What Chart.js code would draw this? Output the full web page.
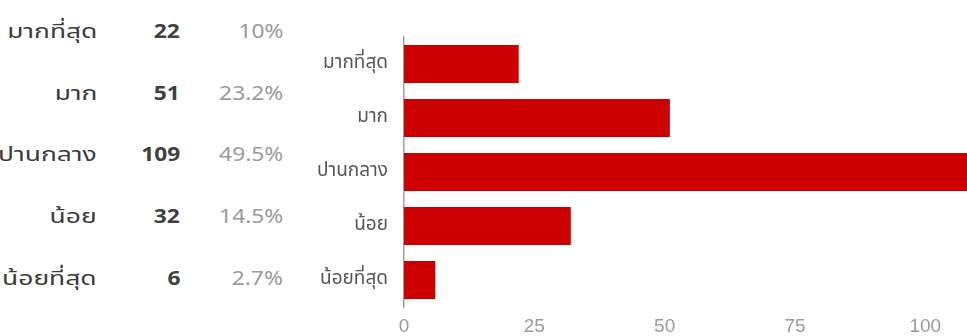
<!DOCTYPE html>
<html>
<head>
<meta charset="utf-8">
<script src="https://cdn.jsdelivr.net/npm/chart.js@4.4.1/dist/chart.umd.min.js"></script>
<style>
  html, body { margin: 0; padding: 0; background: #fff; overflow: hidden; }
  body { width: 967px; height: 336px; position: relative; font-family: Tahoma, "Noto Sans Thai", "Noto Sans", "DejaVu Sans", sans-serif; }
  #summary { position: absolute; left: 0; top: 0; width: 290px; height: 336px; }
  .row { position: absolute; left: 0; width: 290px; height: 30px; line-height: 30px; }
  .row span { position: absolute; top: 0; white-space: nowrap; transform-origin: 100% 50%; }
  .lbl { right: 193px; color: #3a3a3a; font-size: 20px; transform: scaleX(1.32); }
  .cnt { right: 110px; color: #404040; font-size: 20px; font-weight: bold; transform: scaleX(1.14); }
  .pct { right: 7px; color: #9a9a9a; font-size: 20px; transform: scaleX(1.14); }
  #wrap { position: absolute; left: 290px; top: 0; width: 677px; height: 336px; }
</style>
</head>
<body>
<div id="summary"></div>
<div id="wrap"><canvas id="chart"></canvas></div>
<script>
// Answer options and how many people chose each one
const categories = ['มากที่สุด', 'มาก', 'ปานกลาง', 'น้อย', 'น้อยที่สุด'];
const counts = [22, 51, 109, 32, 6];
const percentLabels = ['10%', '23.2%', '49.5%', '14.5%', '2.7%'];
const xTicks = [0, 25, 50, 75, 100];

// Summary table to the left of the bars
const summary = document.getElementById('summary');
const rowTops = [17, 79, 140, 202, 264];
categories.forEach((name, i) => {
  const row = document.createElement('div');
  row.className = 'row';
  row.style.top = rowTops[i] + 'px';
  row.innerHTML = '<span class="lbl"></span><span class="cnt"></span><span class="pct"></span>';
  row.querySelector('.lbl').textContent = name;
  row.querySelector('.cnt').textContent = String(counts[i]);
  row.querySelector('.pct').textContent = percentLabels[i];
  summary.appendChild(row);
});

new Chart(document.getElementById('chart'), {
  type: 'bar',
  data: {
    labels: categories,
    datasets: [{
      data: counts,
      backgroundColor: '#cc0000',
      borderWidth: 0,
      barPercentage: 0.7,
      categoryPercentage: 1.0
    }]
  },
  options: {
    indexAxis: 'y',
    responsive: true,
    maintainAspectRatio: false,
    animation: false,
    layout: { padding: { top: 37, right: 0, bottom: 0, left: 0 } },
    plugins: { legend: { display: false }, tooltip: { enabled: false } },
    scales: {
      x: {
        min: 0,
        max: 108,
        afterBuildTicks: (scale) => { scale.ticks = xTicks.map(v => ({ value: v })); },
        afterFit: (scale) => { scale.height = 29; },
        grid: { display: false, drawTicks: false },
        border: { display: false },
        ticks: {
          padding: 8,
          color: '#9a9a9a',
          font: { family: 'Arial, "Liberation Sans", sans-serif', size: 19 }
        }
      },
      y: {
        afterFit: (scale) => { scale.width = 114; },
        grid: { display: false, drawTicks: false },
        border: { display: true, color: '#9e9e9e', width: 1.5 },
        ticks: {
          padding: 16,
          color: '#555',
          font: { family: 'Tahoma, "Noto Sans Thai", "Noto Sans", "DejaVu Sans", sans-serif', size: 19 }
        }
      }
    }
  }
});
</script>
</body>
</html>
